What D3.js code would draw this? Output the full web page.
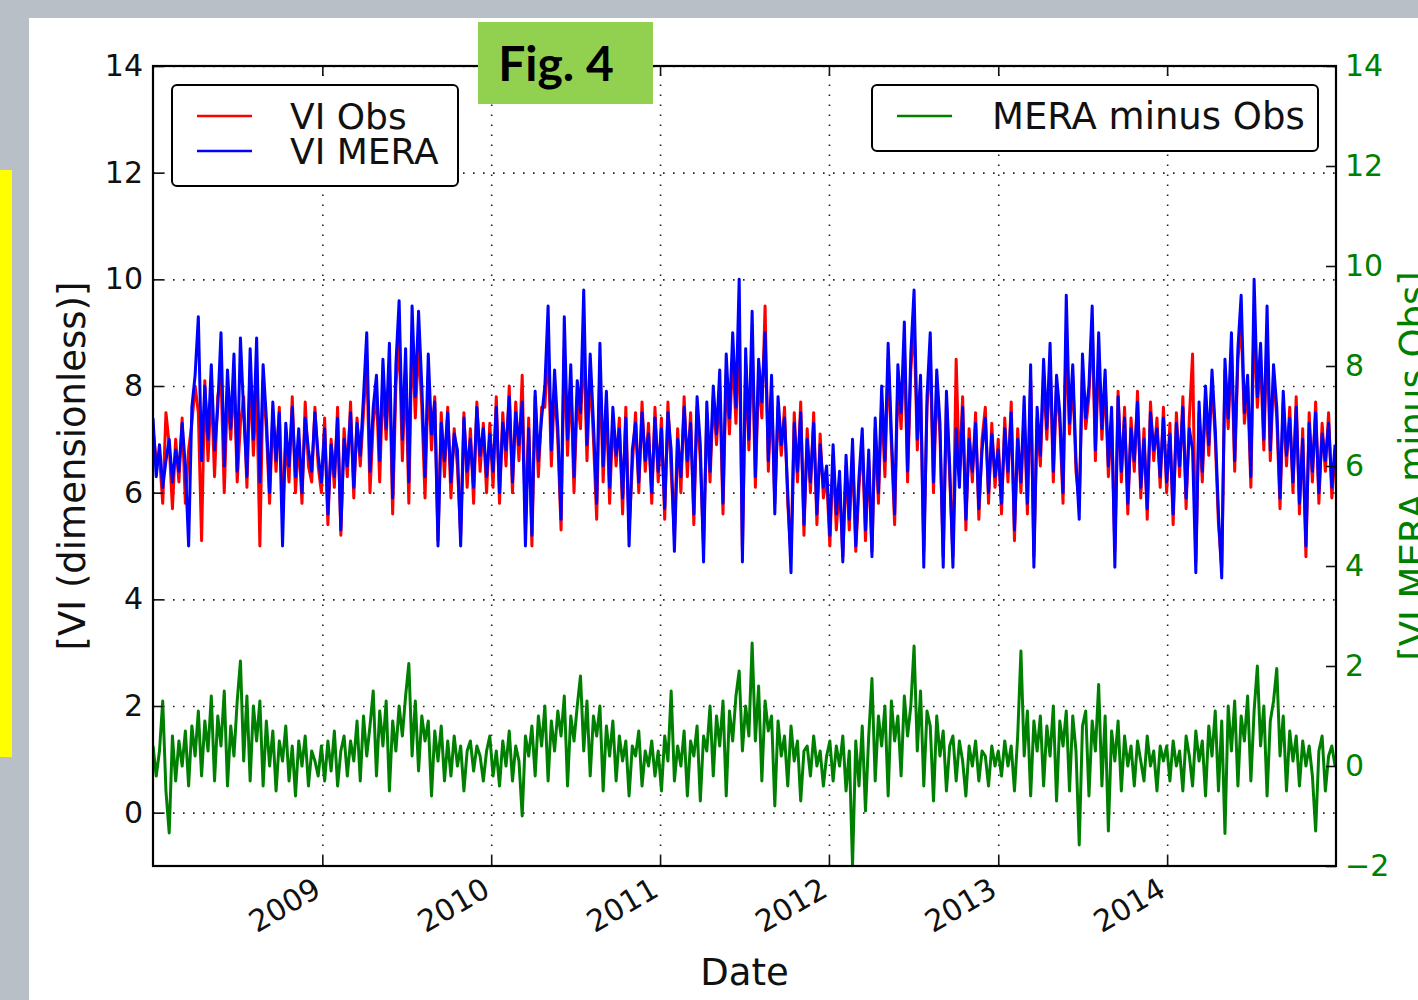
<!DOCTYPE html>
<html lang="en">
<head>
<meta charset="UTF-8">
<title>Fig. 4 - VI Obs vs VI MERA</title>
<script src="https://d3js.org/d3.v7.min.js"></script>
<style>
  body { margin: 0; padding: 0; background: #b9bfc7; width: 1418px; height: 1000px; overflow: hidden; }
  svg { position: absolute; left: 0; top: 0; }
  svg text { font-family: 'DejaVu Sans', sans-serif; }
  .grid line { stroke: #222; stroke-width: 1.6; stroke-dasharray: 1.6, 8.4; }
  .grid path { display: none; }
  .axis path { display: none; }
  .axis line { stroke: #111; stroke-width: 1.6; }
</style>
</head>
<body>
<svg id="chart" width="1418" height="1000"></svg>
<script>
// weekly samples, starting 2008-01-01
var startDate = new Date(2008, 0, 1);
var stepDays = 7;

var yearTicks = [2009, 2010, 2011, 2012, 2013, 2014];
var leftTicks = [0, 2, 4, 6, 8, 10, 12, 14];
var rightTicks = [-2, 0, 2, 4, 6, 8, 10, 12, 14];

var viObs = [
  7.2, 6.6, 6.7, 5.8, 7.5, 6.9, 5.7, 7.0, 6.2, 7.4, 5.8, 6.8, 7.3,
  8.0, 7.5, 5.1, 8.1, 6.6, 8.0, 6.3, 7.8, 8.2, 6.0, 7.9, 7.0, 8.2,
  6.2, 7.3, 7.8, 6.1, 8.2, 6.7, 8.0, 5.0, 8.1, 7.2, 5.8, 7.5, 6.4,
  7.6, 5.6, 7.0, 6.2, 7.8, 6.0, 7.0, 5.8, 7.7, 6.5, 6.2, 7.6, 6.5,
  6.0, 7.4, 5.4, 7.0, 6.1, 7.6, 5.2, 7.2, 6.3, 7.7, 5.9, 7.4, 6.5,
  7.5, 8.5, 6.0, 7.3, 7.9, 6.2, 8.1, 7.0, 8.4, 5.6, 8.0, 8.9, 6.6,
  8.3, 5.8, 9.0, 7.4, 8.8, 7.6, 5.9, 8.2, 6.8, 7.8, 5.1, 7.5, 6.3,
  7.6, 5.9, 7.2, 6.5, 5.2, 7.5, 6.1, 7.2, 5.8, 7.7, 6.4, 7.3, 6.0,
  7.3, 6.1, 7.8, 5.8, 7.5, 6.5, 8.0, 6.0, 7.7, 6.6, 8.2, 5.3, 7.4,
  5.0, 7.8, 6.3, 7.6, 7.6, 8.8, 6.5, 8.0, 7.0, 5.3, 8.7, 6.7, 8.1,
  6.0, 7.8, 7.2, 8.9, 6.6, 8.3, 7.0, 5.5, 8.4, 6.2, 7.7, 5.8, 7.4,
  6.5, 7.4, 5.6, 7.6, 5.3, 6.5, 7.5, 6.0, 7.7, 6.4, 7.3, 5.8, 7.6,
  6.2, 7.4, 5.5, 7.7, 6.4, 5.2, 7.2, 6.0, 7.8, 6.3, 7.5, 5.4, 7.6,
  6.6, 5.0, 7.5, 6.2, 7.8, 6.9, 8.0, 5.6, 8.3, 7.1, 8.6, 7.3, 9.0,
  4.9, 8.4, 6.8, 8.9, 6.1, 8.2, 7.4, 9.5, 6.4, 7.9, 5.8, 7.6, 6.7,
  7.6, 5.8, 4.8, 7.5, 6.2, 7.7, 5.2, 7.2, 6.0, 7.5, 5.4, 7.1, 5.9,
  6.3, 5.0, 6.7, 5.3, 6.2, 4.8, 6.5, 5.3, 6.8, 4.9, 6.1, 7.0, 5.1,
  6.6, 4.9, 7.2, 5.8, 7.7, 6.3, 8.5, 6.9, 5.4, 8.1, 7.2, 8.8, 6.2,
  8.3, 9.2, 6.8, 8.0, 4.9, 7.6, 8.6, 6.0, 8.0, 7.1, 4.8, 7.7, 6.3,
  4.8, 8.5, 6.3, 7.8, 5.3, 7.2, 6.2, 7.5, 5.5, 7.0, 7.6, 5.8, 7.3,
  6.1,
  7.0, 5.6, 7.4, 6.2, 7.7, 5.1, 7.2, 6.0, 7.5, 5.6, 8.1, 4.8, 7.4,
  6.5, 8.2, 7.0, 8.5, 6.2, 8.0, 7.3, 5.8, 9.0, 7.1, 8.2, 6.4, 5.8,
  8.3, 7.2, 7.8, 9.2, 6.6, 8.6, 7.0, 8.1, 6.3, 7.4, 4.9, 7.9, 6.2,
  7.6, 5.6, 7.4, 6.4, 7.9, 5.9, 7.2, 5.5, 7.7, 6.6, 7.4, 6.1, 7.6,
  6.0, 7.3, 5.4, 7.5, 6.3, 7.8, 5.7, 7.4, 8.6, 4.7, 7.5, 6.2, 7.8,
  6.7, 8.1, 7.0, 5.4, 4.6, 8.3, 7.2, 8.7, 6.4, 8.5, 9.2, 7.3, 8.0,
  6.1, 9.3, 7.6, 8.5, 6.8, 9.0, 6.6, 8.2, 7.4, 5.7, 7.7, 6.5, 7.6,
  6.0, 7.8, 5.6, 7.2, 4.8, 7.5, 6.2, 7.7, 5.8, 7.3, 6.4, 7.5, 5.9, 6.7
];

var viMera = [
  7.4, 6.3, 6.9, 6.1, 6.6, 7.0, 6.2, 6.8, 6.4, 7.3, 6.5, 5.0, 7.6,
  8.2, 9.3, 6.6, 8.0, 7.0, 8.4, 6.8, 7.6, 9.0, 6.5, 8.3, 7.2, 8.6,
  6.4, 8.9, 7.5, 6.3, 8.7, 7.0, 8.9, 6.2, 8.4, 7.4, 6.0, 7.7, 6.6,
  7.5, 5.0, 7.3, 6.5, 7.6, 6.3, 7.2, 6.0, 7.4, 6.8, 6.4, 7.5, 6.7,
  6.2, 7.2, 5.6, 6.9, 6.3, 7.4, 5.3, 7.0, 6.5, 7.5, 6.1, 7.3, 6.7,
  7.8, 9.0, 6.4, 7.6, 8.2, 6.6, 8.5, 7.2, 8.8, 5.9, 8.4, 9.6, 7.0,
  8.7, 6.2, 9.5, 7.8, 9.4, 8.0, 6.3, 8.6, 7.1, 7.7, 5.0, 7.3, 6.6,
  7.5, 6.2, 7.1, 6.8, 5.0, 7.4, 6.4, 7.0, 6.1, 7.6, 6.7, 7.2, 6.3,
  7.1, 6.4, 7.6, 6.0, 7.3, 6.8, 7.8, 6.2, 7.5, 6.9, 7.7, 5.0, 7.2,
  5.2, 7.9, 6.6, 7.4, 8.0, 9.5, 6.8, 8.3, 7.2, 5.5, 9.3, 7.0, 8.4,
  6.3, 8.1, 7.5, 9.8, 6.9, 8.6, 7.3, 5.8, 8.8, 6.5, 7.9, 6.1, 7.6,
  6.7, 7.2, 5.9, 7.4, 5.0, 6.8, 7.3, 6.2, 7.5, 6.6, 7.1, 6.0, 7.4,
  6.4, 7.2, 5.7, 7.5, 6.8, 4.9, 7.0, 6.3, 7.6, 6.6, 7.3, 5.6, 7.8,
  6.9, 4.7, 7.7, 6.4, 8.0, 7.1, 8.3, 5.8, 8.6, 7.4, 9.0, 7.6, 10.0,
  4.7, 8.7, 7.0, 9.4, 6.3, 8.5, 7.7, 9.0, 6.6, 8.2, 5.6, 7.8, 6.9,
  7.4, 6.0, 4.5, 7.3, 6.4, 7.5, 5.4, 7.0, 6.2, 7.3, 5.6, 6.9, 6.1,
  6.5, 5.2, 6.9, 5.6, 6.4, 4.7, 6.7, 5.5, 7.0, 5.0, 6.3, 7.2, 5.3,
  6.8, 4.8, 7.4, 6.0, 8.0, 6.6, 8.8, 7.1, 5.6, 8.4, 7.5, 9.2, 6.4,
  8.6, 9.8, 7.0, 8.2, 4.6, 7.8, 9.0, 6.2, 8.3, 7.3, 4.6, 7.9, 6.5,
  4.6, 7.2, 6.1, 7.6, 5.5, 7.0, 6.4, 7.3, 5.7, 6.8, 7.4, 6.0, 7.1,
  6.3,
  6.8, 5.8, 7.2, 6.4, 7.5, 5.3, 7.0, 6.2, 7.8, 5.8, 8.4, 4.6, 7.6,
  6.7, 8.5, 7.2, 8.8, 6.4, 8.2, 7.5, 6.0, 9.7, 7.3, 8.4, 6.6, 5.5,
  8.6, 7.4, 8.0, 9.5, 6.8, 9.0, 7.2, 8.3, 6.5, 7.6, 4.6, 7.8, 6.4,
  7.4, 5.8, 7.2, 6.6, 7.7, 6.1, 7.0, 5.7, 7.5, 6.8, 7.2, 6.3, 7.4,
  6.2, 7.1, 5.6, 7.3, 6.5, 7.6, 5.9, 7.2, 6.8, 4.5, 7.7, 6.4, 8.0,
  6.9, 8.3, 7.2, 5.6, 4.4, 8.5, 7.4, 9.0, 6.6, 8.7, 9.7, 7.5, 8.2,
  6.3, 10.0, 7.8, 8.8, 7.0, 9.5, 6.8, 8.4, 7.6, 5.9, 7.9, 6.7, 7.4,
  6.2, 7.6, 5.8, 7.0, 5.0, 7.3, 6.4, 7.5, 6.0, 7.1, 6.6, 7.3, 6.1, 6.9
];

var meraMinusObs = [
  0.4, -0.2, 0.3, 1.3, -0.5, -1.34, 0.6, -0.3, 0.5, 0.0, 0.7, -0.4, 0.8,
  0.2, 1.1, -0.2, 0.9, 0.3, 1.4, -0.3, 1.0, 0.4, 1.5, -0.4, 0.8, 0.2,
  1.3, 2.1, 0.1, 1.4, -0.3, 1.2, 0.5, 1.3, -0.4, 0.9, 0.0, 0.7, -0.5,
  0.5, 0.1, 0.8, -0.3, 0.4, -0.6, 0.5, 0.0, 0.6, -0.4, 0.3, 0.1, -0.2,
  0.4, -0.3, 0.5, -0.1, 0.7, -0.4, 0.3, 0.6, -0.2, 0.5, 0.1, 0.9, -0.3,
  1.0, 0.2, 0.8, 1.5, -0.2, 1.1, 0.4, 1.3, -0.5, 0.9, 0.3, 1.2, 0.6,
  1.4, 2.05, 0.2, 1.3, -0.1, 1.0, 0.5, 0.9, -0.6, 0.7, 0.1, 0.8, -0.3,
  0.5, -0.2, 0.6, 0.0, 0.4, -0.5, 0.3, 0.5, -0.1, 0.4, 0.2, -0.3, 0.3,
  0.6, -0.2, 0.3, -0.4, 0.5, 0.0, 0.7, -0.3, 0.4, 0.1, -1.0, 0.6, 0.2,
  0.8, -0.2, 1.0, 0.4, 1.2, -0.3, 0.9, 0.3, 1.1, 0.6, 1.4, -0.4, 1.0,
  0.5, 1.2, 1.8, 0.3, 1.3, -0.2, 1.0, 0.6, 1.2, -0.5, 0.8, 0.2, 0.9,
  -0.3, 0.6, 0.1, 0.5, -0.6, 0.4, 0.2, 0.7, -0.4, 0.3, 0.0, 0.5, -0.2,
  0.3, -0.5, 0.6, 0.1, 1.5, -0.3, 0.4, 0.0, 0.7, -0.6, 0.5, 0.2, 0.8,
  -0.7, 0.6, 0.3, 1.2, -0.2, 1.0, 0.4, 1.3, -0.6, 1.1, 0.5, 1.4, 1.9,
  0.3, 1.2, 0.6, 2.46, 0.5, 1.6, -0.3, 1.3, 0.7, 1.0, -0.8, 0.9, 0.2,
  0.6, -0.4, 0.8, 0.1, 0.5, -0.7, 0.3, 0.4, -0.2, 0.6, 0.0, 0.3, -0.4,
  0.2, 0.5, -0.3, 0.4, 0.0, 0.6, -0.5, 0.3, -2.0, 0.5, -0.4, 0.8, -0.9,
  0.6, 1.75, -0.3, 1.0, 0.4, 1.2, -0.6, 1.3, 0.5, 1.0, -0.2, 1.4, 0.6,
  1.2, 2.4, 0.3, 1.5, -0.4, 1.1, 0.8, -0.7, 1.0, 0.2, 0.7, -0.5, 0.4,
  0.6, -0.3, 0.5, 0.1, -0.6, 0.4, 0.0, 0.5, -0.3, 0.3, 0.2, -0.4, 0.4,
  0.0,
  0.3, -0.2, 0.5, 0.0, 0.4, -0.5, 0.6, 2.3, 0.2, 1.1, -0.6, 0.9, 0.3,
  1.0, -0.4, 0.8, 0.2, 1.2, -0.7, 0.9, 0.4, 1.1, -0.5, 1.0, 0.3, -1.58,
  0.8, 1.1, -0.6, 0.9, 0.3, 1.63, -0.4, 1.0, -1.3, 0.7, 0.1, 0.9, -0.5,
  0.6, 0.0, 0.4, -0.4, 0.5, 0.1, -0.3, 0.6, 0.0, 0.3, -0.5, 0.4, 0.1,
  0.4, -0.3, 0.5, 0.0, 0.3, -0.5, 0.6, 0.2, -0.4, 0.7, 0.1, 0.5, -0.6,
  0.8, 0.2, 1.1, -0.5, 0.9, -1.35, 1.2, 0.3, 1.3, -0.4, 1.0, 0.5, 1.4,
  -0.3, 1.1, 2.0, 0.4, 1.2, -0.6, 0.9, 1.3, 1.95, 0.2, 1.0, -0.5, 0.7,
  0.1, 0.6, -0.4, 0.5, 0.0, 0.4, -0.2, -1.3, 0.3, 0.6, -0.5, 0.2, 0.4, 0.0
];

var svg = d3.select("#chart");

// page decoration: white panel, yellow strip
svg.append("rect").attr("x", 29).attr("y", 18).attr("width", 1418 - 29).attr("height", 1000 - 18).attr("fill", "#ffffff");
svg.append("rect").attr("x", 0).attr("y", 170).attr("width", 12).attr("height", 587).attr("fill", "#ffff00");

var plotL = 153, plotR = 1336, plotT = 66, plotB = 866;
var plotW = plotR - plotL, plotH = plotB - plotT;

var x = d3.scaleTime()
    .domain([new Date(2008, 0, 1), new Date(2015, 0, 1)])
    .range([plotL, plotR]);
var yL = d3.scaleLinear().domain([-1, 14]).range([plotB, plotT]);
var yR = d3.scaleLinear().domain([-2, 14]).range([plotB, plotT]);

function dateAt(i) { return d3.timeDay.offset(startDate, i * stepDays); }
var yearDates = yearTicks.map(function (y) { return new Date(y, 0, 1); });

// grid
svg.append("g")
    .attr("class", "grid")
    .attr("transform", "translate(" + plotL + ",0)")
    .call(d3.axisLeft(yL).tickValues(leftTicks).tickSize(-plotW).tickFormat(""));
svg.append("g")
    .attr("class", "grid")
    .attr("transform", "translate(0," + plotB + ")")
    .call(d3.axisBottom(x).tickValues(yearDates).tickSize(-plotH).tickFormat(""));

svg.append("clipPath").attr("id", "plotclip")
    .append("rect").attr("x", plotL).attr("y", plotT).attr("width", plotW).attr("height", plotH);

var lineL = d3.line()
    .x(function (d, i) { return x(dateAt(i)); })
    .y(function (d) { return yL(d); });
var lineR = d3.line()
    .x(function (d, i) { return x(dateAt(i)); })
    .y(function (d) { return yR(d); });

var plot = svg.append("g").attr("clip-path", "url(#plotclip)");
plot.append("path").datum(viObs).attr("d", lineL)
    .attr("fill", "none").attr("stroke", "#ff0000").attr("stroke-width", 3).attr("stroke-linejoin", "round");
plot.append("path").datum(viMera).attr("d", lineL)
    .attr("fill", "none").attr("stroke", "#0000ff").attr("stroke-width", 3).attr("stroke-linejoin", "round");
plot.append("path").datum(meraMinusObs).attr("d", lineR)
    .attr("fill", "none").attr("stroke", "#008000").attr("stroke-width", 3).attr("stroke-linejoin", "round");

// axes
var xAxis = svg.append("g")
    .attr("class", "axis")
    .attr("transform", "translate(0," + plotB + ")")
    .call(d3.axisBottom(x).tickValues(yearDates).tickSize(-10).tickFormat(d3.timeFormat("%Y")));
xAxis.selectAll("text")
    .attr("x", 0).attr("y", 0).attr("dy", null)
    .attr("text-anchor", "end")
    .attr("transform", "translate(0,29) rotate(-30)")
    .style("font-family", "'DejaVu Sans', sans-serif")
    .style("font-size", "30px").style("fill", "#111");

svg.append("g")
    .attr("class", "axis")
    .attr("transform", "translate(0," + plotT + ")")
    .call(d3.axisTop(x).tickValues(yearDates).tickSize(-10).tickFormat(""));

var yAxisL = svg.append("g")
    .attr("class", "axis")
    .attr("transform", "translate(" + plotL + ",0)")
    .call(d3.axisLeft(yL).tickValues(leftTicks).tickSize(-10).tickPadding(10));
yAxisL.selectAll("text")
    .style("font-family", "'DejaVu Sans', sans-serif")
    .style("font-size", "30px").style("fill", "#111");

var yAxisR = svg.append("g")
    .attr("class", "axis")
    .attr("transform", "translate(" + plotR + ",0)")
    .call(d3.axisRight(yR).tickValues(rightTicks).tickSize(-10).tickPadding(9));
yAxisR.selectAll("text")
    .style("font-family", "'DejaVu Sans', sans-serif")
    .style("font-size", "30px").style("fill", "#008000");

// frame
svg.append("rect")
    .attr("x", plotL).attr("y", plotT).attr("width", plotW).attr("height", plotH)
    .attr("fill", "none").attr("stroke", "#000").attr("stroke-width", 2.2);

// axis titles
svg.append("text")
    .attr("x", (plotL + plotR) / 2).attr("y", 985)
    .attr("text-anchor", "middle")
    .style("font-size", "37px").style("fill", "#111")
    .text("Date");
svg.append("text")
    .attr("transform", "translate(85," + (plotT + plotH / 2) + ") rotate(-90)")
    .attr("text-anchor", "middle")
    .style("font-size", "37px").style("fill", "#111")
    .text("[VI (dimensionless)]");
svg.append("text")
    .attr("transform", "translate(1426," + (plotT + plotH / 2) + ") rotate(-90)")
    .attr("text-anchor", "middle")
    .style("font-size", "37px").style("fill", "#008000")
    .text("[VI MERA minus Obs]");

// legends
var legendLeft = svg.append("g");
legendLeft.append("rect")
    .attr("x", 172).attr("y", 85).attr("width", 286).attr("height", 101).attr("rx", 5)
    .attr("fill", "#fff").attr("stroke", "#000").attr("stroke-width", 2);
[["VI Obs", "#ff0000", 116], ["VI MERA", "#0000ff", 151]].forEach(function (e) {
    legendLeft.append("line").attr("x1", 197).attr("x2", 252).attr("y1", e[2]).attr("y2", e[2])
        .attr("stroke", e[1]).attr("stroke-width", 2.6);
    legendLeft.append("text").attr("x", 290).attr("y", e[2] + 13)
        .style("font-size", "36px").style("fill", "#111").text(e[0]);
});

var legendRight = svg.append("g");
legendRight.append("rect")
    .attr("x", 872).attr("y", 85).attr("width", 446).attr("height", 66).attr("rx", 5)
    .attr("fill", "#fff").attr("stroke", "#000").attr("stroke-width", 2);
legendRight.append("line").attr("x1", 897).attr("x2", 952).attr("y1", 116).attr("y2", 116)
    .attr("stroke", "#008000").attr("stroke-width", 2.6);
legendRight.append("text").attr("x", 992).attr("y", 129)
    .style("font-size", "37px").style("fill", "#111").text("MERA minus Obs");

// figure tag
svg.append("rect").attr("x", 478).attr("y", 22).attr("width", 175).attr("height", 82).attr("fill", "#92d050");
svg.append("text")
    .attr("x", 556).attr("y", 81)
    .attr("text-anchor", "middle")
    .style("font-family", "Lato, 'Open Sans', sans-serif")
    .style("font-weight", "bold").style("font-size", "48px").style("fill", "#000")
    .text("Fig. 4");
</script>
</body>
</html>
